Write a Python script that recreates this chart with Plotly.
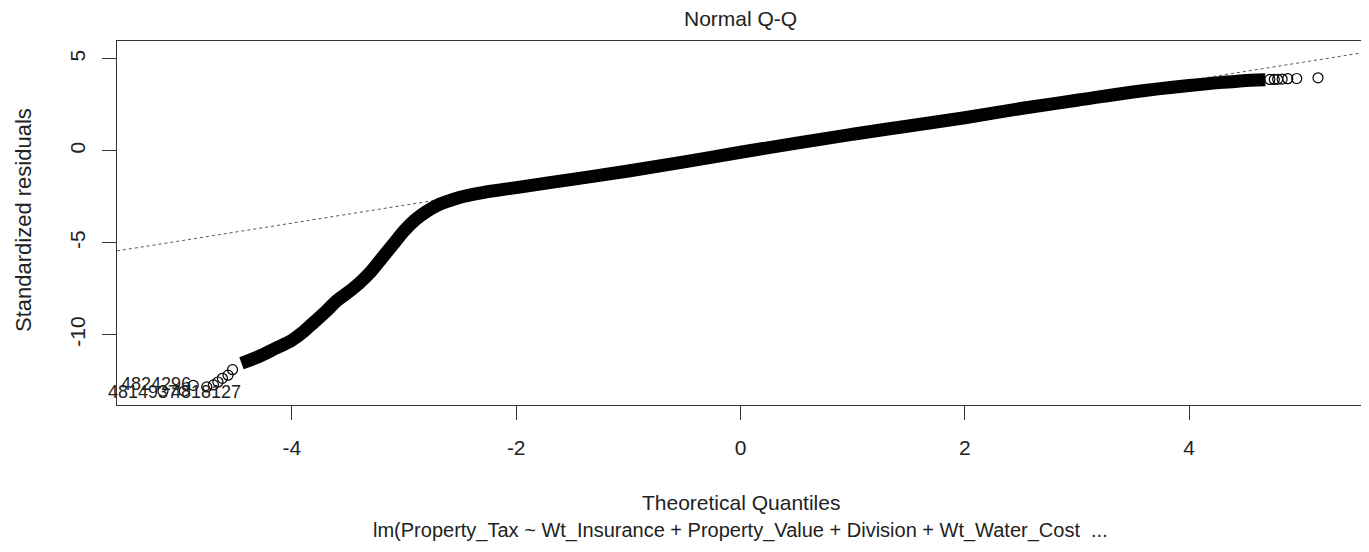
import plotly.graph_objects as go

# ---- data ----
# dense part of the Q-Q curve (theoretical quantile, standardized residual)
band_x = [-4.45, -4.3, -4.15, -4.0, -3.9, -3.8, -3.7, -3.6, -3.5, -3.4, -3.3, -3.2,
          -3.1, -3.0, -2.9, -2.8, -2.7, -2.6, -2.5, -2.3, -2.0, -1.5, -1.0, -0.5,
          0.0, 0.5, 1.0, 1.5, 2.0, 2.5, 3.0, 3.5, 4.0, 4.3, 4.55, 4.68]
band_y = [-11.55, -11.2, -10.75, -10.3, -9.85, -9.3, -8.75, -8.15, -7.7, -7.2, -6.6, -5.85,
          -5.1, -4.35, -3.75, -3.3, -2.95, -2.72, -2.52, -2.27, -2.0, -1.55, -1.1, -0.6,
          -0.08, 0.42, 0.9, 1.35, 1.8, 2.3, 2.75, 3.2, 3.55, 3.72, 3.84, 3.87]
# sparse tail points
tail_x = [-5.15, -4.96, -4.88, -4.76, -4.7, -4.66, -4.62, -4.57, -4.53,
          4.72, 4.76, 4.79, 4.83, 4.88, 4.96, 5.15]
tail_y = [-13.06, -13.06, -12.75, -12.84, -12.73, -12.57, -12.37, -12.2, -11.9,
          3.88, 3.88, 3.89, 3.9, 3.92, 3.93, 3.97]
# labelled observations (anchor inside the plot, text start shifted in pixels)
label_text = ["4814937", "4818127", "4824296"]
label_x = [-5.5, -5.10, -5.5]
label_shift = [-18, 0, -5]
label_y = [-13.1, -13.1, -12.68]
# reference line
qqline_intercept = -0.05
qqline_slope = 0.97

x_range = [-5.56, 5.56]
y_range = [-13.82, 5.97]
x_ticks = [-4, -2, 0, 2, 4]
x_tick_text = ["-4", "-2", "0", "2", "4"]
y_ticks = [-10, -5, 0, 5]
y_tick_text = ["-10", "-5", "0", "5"]

FONT = "Liberation Sans, Arial, sans-serif"
TXT = "#222222"
FS = 21

# the page body adds an 8px offset; plot area in page pixels: x 117..1364, y 41..405
OFF = 8
PL, PR, PT, PB = 117, 1364, 41, 405

fig = go.Figure()

fig.add_trace(go.Scatter(
    x=x_range,
    y=[qqline_intercept + qqline_slope * v for v in x_range],
    mode="lines", line=dict(color="#555555", width=1, dash="dot"),
    hoverinfo="skip", showlegend=False))

fig.add_trace(go.Scatter(
    x=band_x, y=band_y, mode="lines",
    line=dict(color="black", width=13, shape="spline"),
    showlegend=False))

fig.add_trace(go.Scatter(
    x=tail_x, y=tail_y, mode="markers",
    marker=dict(symbol="circle-open", size=10, color="black", line=dict(width=1.2)),
    showlegend=False))

for t, xx, yy, sh in zip(label_text, label_x, label_y, label_shift):
    fig.add_annotation(x=xx, y=yy, text=t, showarrow=False, xanchor="left", xshift=sh,
                       yanchor="middle", font=dict(family=FONT, size=18, color=TXT))

H_PLOT = float(PB - PT)
W_PLOT = float(PR - PL)
def py(ypx):
    return (PB - ypx) / H_PLOT
def px(xpx):
    return (xpx - PL) / W_PLOT

fig.add_annotation(xref="paper", yref="paper", x=0.5, y=py(18), text="Normal Q-Q",
                   showarrow=False, font=dict(family=FONT, size=FS, color=TXT),
                   xanchor="center", yanchor="middle")
fig.add_annotation(xref="paper", yref="paper", x=0.5, y=py(502), text="Theoretical Quantiles",
                   showarrow=False, font=dict(family=FONT, size=FS, color=TXT),
                   xanchor="center", yanchor="middle")
fig.add_annotation(xref="paper", yref="paper", x=0.5, y=py(530),
                   text="lm(Property_Tax ~ Wt_Insurance + Property_Value + Division + Wt_Water_Cost  ...",
                   showarrow=False, font=dict(family=FONT, size=20, color=TXT),
                   xanchor="center", yanchor="middle")
fig.add_annotation(xref="paper", yref="paper", x=px(23), y=py(220),
                   text="Standardized residuals", textangle=-90,
                   showarrow=False, font=dict(family=FONT, size=22, color=TXT),
                   xanchor="center", yanchor="middle")

fig.update_layout(
    width=1369, height=552,
    margin=dict(l=PL - OFF, r=1369 - (PR - OFF), t=PT - OFF, b=552 - (PB - OFF),
                autoexpand=False),
    paper_bgcolor="white", plot_bgcolor="white",
    showlegend=False,
    xaxis=dict(range=x_range, tickvals=x_ticks, ticktext=x_tick_text, ticks="outside",
               ticklen=14, tickwidth=1.3, tickcolor="#333", showgrid=False, zeroline=False,
               showline=True, linecolor="#333", linewidth=1.3, mirror=True, automargin=False,
               tickfont=dict(family=FONT, size=FS, color=TXT), ticklabelstandoff=10),
    yaxis=dict(range=y_range, tickvals=y_ticks, ticktext=y_tick_text, ticks="outside",
               ticklen=14, tickwidth=1.3, tickcolor="#333", showgrid=False, zeroline=False,
               showline=True, linecolor="#333", linewidth=1.3, mirror=True, automargin=False,
               tickangle=-90,
               tickfont=dict(family=FONT, size=FS, color=TXT), ticklabelstandoff=8),
)

fig.write_html("out.html")
